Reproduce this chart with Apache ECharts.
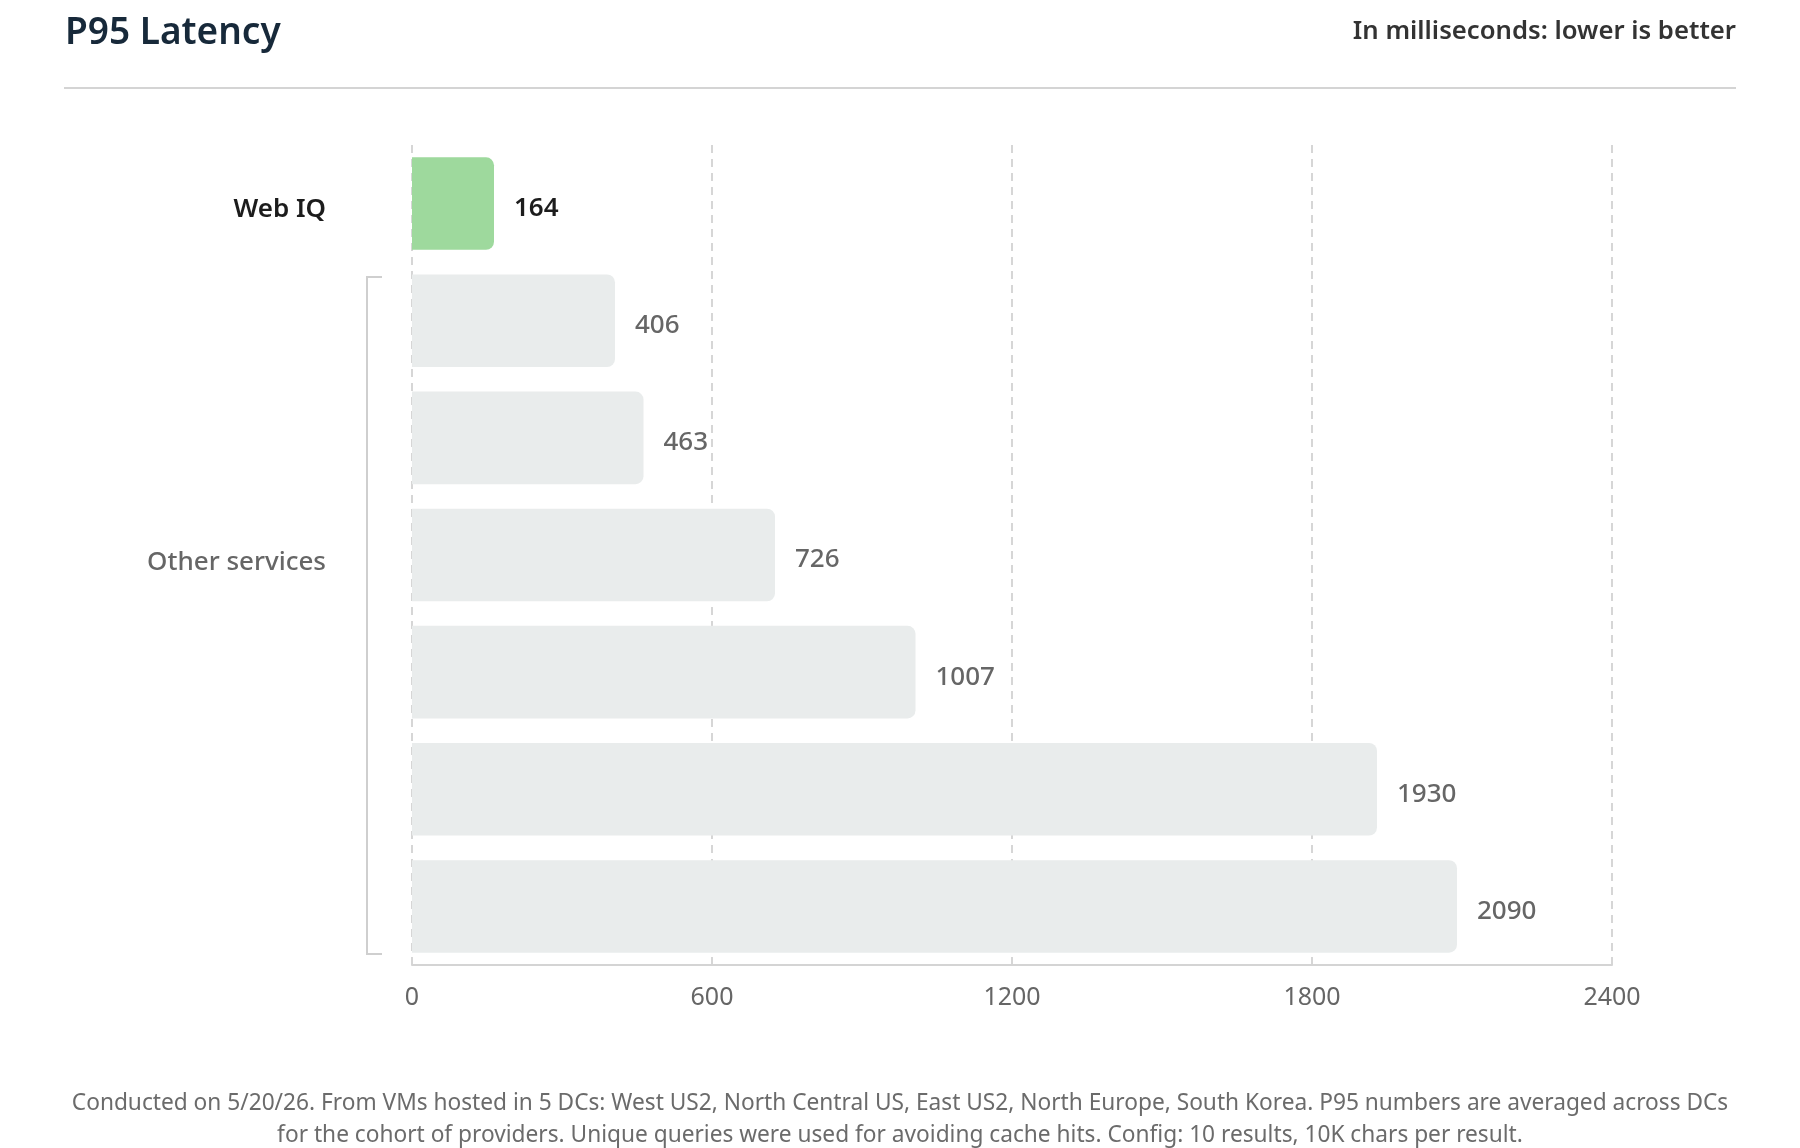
<!DOCTYPE html>
<html>
<head>
<meta charset="utf-8">
<title>P95 Latency</title>
<script src="https://cdn.jsdelivr.net/npm/echarts@6/dist/echarts.min.js"></script>
<style>
  html, body { margin: 0; padding: 0; background: #fff; }
  #chart { width: 1800px; height: 1148px; }
</style>
</head>
<body>
<div id="chart"></div>
<script>
// data
var services = ['Web IQ', 'Service B', 'Service C', 'Service D', 'Service E', 'Service F', 'Service G'];
var serviceLabels = ['Web IQ', '', '', 'Other services', '', '', ''];
var latency = [164, 406, 463, 726, 1007, 1930, 2090];
var xTicks = [0, 600, 1200, 1800, 2400];

var font = '"Noto Sans", "Open Sans", sans-serif';
var footnote = 'Conducted on 5/20/26. From VMs hosted in 5 DCs: West US2, North Central US, East US2, North Europe, South Korea. P95 numbers are averaged across DCs\n' +
  'for the cohort of providers. Unique queries were used for avoiding cache hits. Config: 10 results, 10K chars per result.';

var chart = echarts.init(document.getElementById('chart'));

var barData = latency.map(function (v, i) {
  var ours = i === 0;
  return {
    value: v,
    itemStyle: { color: ours ? '#9ed99d' : '#e9ecec' },
    label: {
      color: ours ? '#1c1c1c' : '#666666',
      fontWeight: ours ? 600 : 500
    }
  };
});

var option = {
  backgroundColor: '#ffffff',
  animation: false,
  textStyle: { fontFamily: font },
  title: [
    {
      text: 'P95 Latency',
      left: 65,
      top: 12,
      padding: 0,
      textStyle: { fontSize: 37, fontWeight: 600, color: '#17293a', fontFamily: font, lineHeight: 42 }
    },
    {
      text: 'In milliseconds: lower is better',
      right: 64,
      top: 16,
      padding: 0,
      textStyle: { fontSize: 25.7, fontWeight: 600, color: '#333333', fontFamily: font, lineHeight: 32 }
    },
    {
      text: footnote,
      left: 'center',
      top: 1088,
      padding: 0,
      textStyle: { fontSize: 22.7, fontWeight: 400, color: '#6b6b6b', fontFamily: font, lineHeight: 32 }
    }
  ],
  grid: {
    left: 412,
    right: 188,
    top: 145,
    bottom: 183,
    containLabel: false
  },
  xAxis: {
    type: 'value',
    min: xTicks[0],
    max: xTicks[xTicks.length - 1],
    interval: xTicks[1] - xTicks[0],
    axisLine: { show: true, lineStyle: { color: '#d4d4d4', width: 2 } },
    axisTick: { show: false },
    axisLabel: {
      color: '#666666',
      fontSize: 25,
      margin: 20,
      fontFamily: font,
      formatter: function (v) { return String(v); }
    },
    splitLine: {
      show: true,
      lineStyle: { color: '#d6d6d6', width: 2, type: [8, 6] }
    }
  },
  yAxis: {
    type: 'category',
    data: services,
    inverse: true,
    axisLine: { show: false },
    axisTick: { show: false },
    axisLabel: {
      margin: 86,
      fontSize: 26,
      fontFamily: font,
      formatter: function (val, idx) {
        var t = serviceLabels[idx];
        if (!t) return '';
        return idx === 0 ? '{main|' + t + '}' : '{rest|' + t + '}';
      },
      rich: {
        main: { color: '#1c1c1c', fontWeight: 600, fontSize: 26, fontFamily: font, padding: [12, 0, 0, 0] },
        rest: { color: '#666666', fontWeight: 500, fontSize: 26, fontFamily: font, padding: [16, 0, 0, 0] }
      }
    }
  },
  series: [
    {
      type: 'bar',
      data: barData,
      barCategoryGap: '21%',
      itemStyle: { borderRadius: [0, 8, 8, 0] },
      label: {
        show: true,
        position: 'right',
        distance: 20,
        offset: [0, 5],
        fontSize: 26,
        fontFamily: font
      }
    }
  ],
  graphic: [
    {
      type: 'line',
      shape: { x1: 64, y1: 88, x2: 1736, y2: 88 },
      style: { stroke: '#d4d4d4', lineWidth: 2 }
    },
    {
      type: 'polyline',
      shape: { points: [[382, 277], [367, 277], [367, 954], [382, 954]] },
      style: { stroke: '#cfcfcf', lineWidth: 2, fill: null }
    }
  ]
};

chart.setOption(option);
</script>
</body>
</html>
